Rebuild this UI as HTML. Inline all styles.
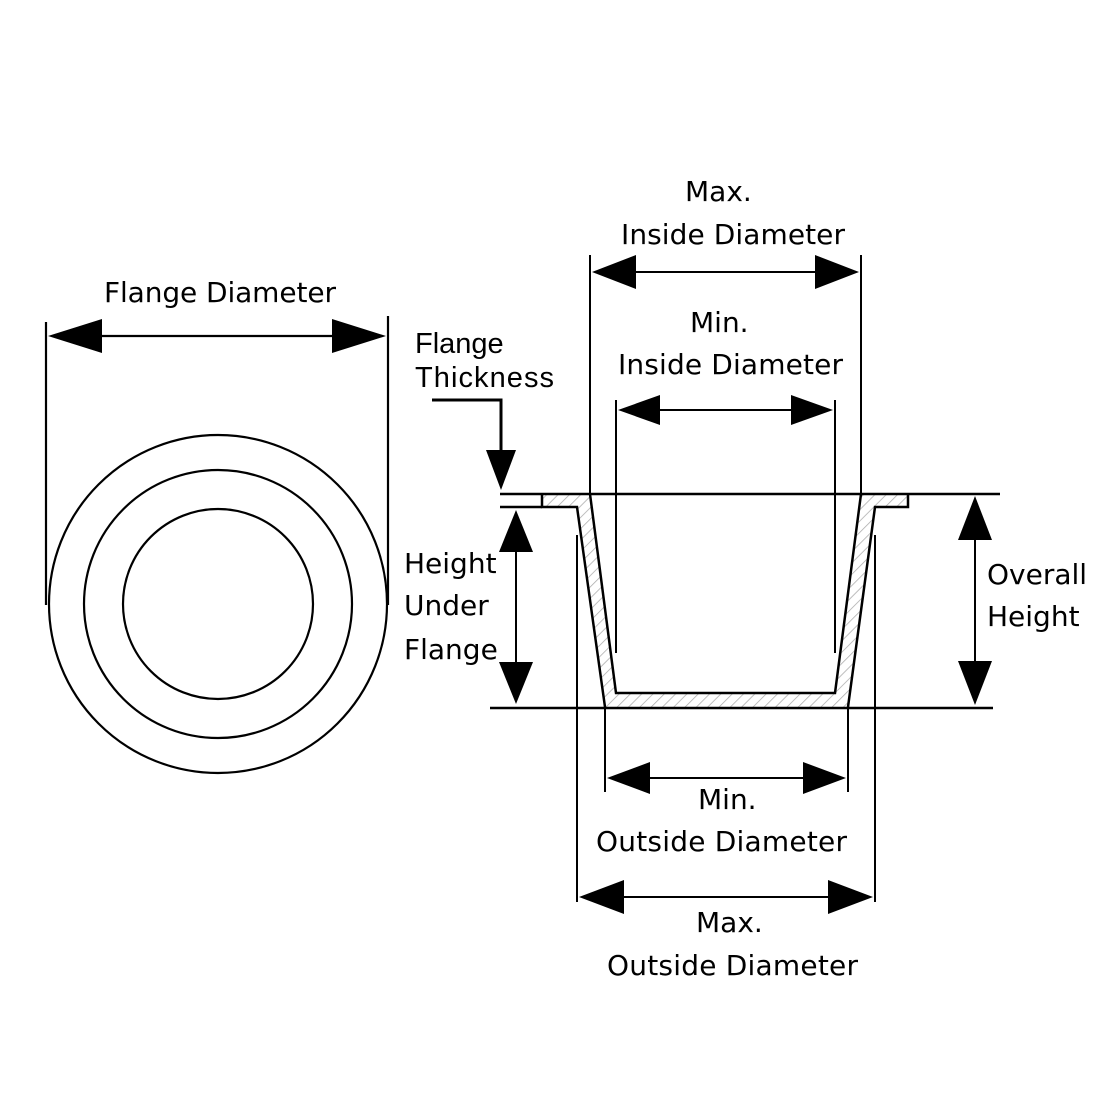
<!DOCTYPE html>
<html><head><style>body{margin:0;background:#fff}svg{display:block}
.t{font-family:"DejaVu Sans",sans-serif;font-size:28px;fill:#000}
.a{font-family:"Liberation Sans",sans-serif;font-size:29px;fill:#000}
</style></head><body>
<svg width="1100" height="1100" viewBox="0 0 1100 1100">
<defs>
<pattern id="h" width="8" height="8" patternUnits="userSpaceOnUse" patternTransform="rotate(45)">
<line x1="0" y1="0" x2="0" y2="8" stroke="#aaa" stroke-width="1.5"/></pattern>
</defs>
<g fill="none" stroke="#000" stroke-width="2.2">
<circle cx="218" cy="604" r="169"/>
<circle cx="218" cy="604" r="134"/>
<circle cx="218" cy="604" r="95"/>
<line x1="46" y1="322" x2="46" y2="605"/>
<line x1="388" y1="316" x2="388" y2="605"/>
<line x1="90" y1="336" x2="345" y2="336"/>
</g>
<path d="M542,494 L908,494 L908,507 L875,507 L848,707 L605,707 L577,507 L542,507 Z M590,494 L616,693 L835,693 L861,494 Z" fill="url(#h)" fill-rule="evenodd" stroke="none"/>
<g fill="none" stroke="#000" stroke-width="2.5">
<line x1="500" y1="494" x2="1000" y2="494"/>
<path d="M542,494 L542,507 L577,507 L605,707"/>
<path d="M590,494 L616,693 L835,693 L861,494"/>
<path d="M908,494 L908,507 L875,507 L848,707"/>
<line x1="500" y1="507" x2="542" y2="507"/>
<line x1="490" y1="708" x2="993" y2="708"/>
</g>
<g fill="none" stroke="#000" stroke-width="2">
<line x1="577" y1="535" x2="577" y2="902"/>
<line x1="875" y1="535" x2="875" y2="902"/>
<line x1="605" y1="707" x2="605" y2="792"/>
<line x1="848" y1="707" x2="848" y2="792"/>
<line x1="616" y1="400" x2="616" y2="653"/>
<line x1="835" y1="400" x2="835" y2="653"/>
<line x1="590" y1="255" x2="590" y2="494"/>
<line x1="861" y1="255" x2="861" y2="494"/>
<line x1="630" y1="272" x2="820" y2="272"/>
<line x1="655" y1="410" x2="795" y2="410"/>
<line x1="645" y1="778" x2="808" y2="778"/>
<line x1="620" y1="897" x2="832" y2="897"/>
<line x1="975" y1="540" x2="975" y2="665"/>
<line x1="516" y1="540" x2="516" y2="665"/>
<path d="M432,400 L501,400 L501,455" stroke-width="3"/>
</g>
<g fill="#000">
<polygon points="48,336 102,319 102,353"/><polygon points="386,336 332,319 332,353"/>
<polygon points="592,272 636,255 636,289"/><polygon points="859,272 815,255 815,289"/>
<polygon points="618,410 660,395 660,425"/><polygon points="833,410 791,395 791,425"/>
<polygon points="607,778 650,762 650,794"/><polygon points="846,778 803,762 803,794"/>
<polygon points="579,897 624,880 624,914"/><polygon points="873,897 828,880 828,914"/>
<polygon points="975,496 958,540 992,540"/><polygon points="975,705 958,661 992,661"/>
<polygon points="516,510 499,552 533,552"/><polygon points="516,704 499,662 533,662"/>
<polygon points="501,490 486,450 516,450"/>
</g>
<text class="t" x="104" y="302" textLength="232">Flange Diameter</text>
<text class="a" x="415" y="353">Flange</text>
<text class="a" x="415" y="387" textLength="139">Thickness</text>
<text class="t" x="685" y="201">Max.</text>
<text class="t" x="621" y="244" textLength="224">Inside Diameter</text>
<text class="t" x="690" y="332">Min.</text>
<text class="t" x="618" y="374" textLength="225">Inside Diameter</text>
<text class="t" x="404" y="573">Height</text>
<text class="t" x="404" y="615">Under</text>
<text class="t" x="404" y="659">Flange</text>
<text class="t" x="987" y="584">Overall</text>
<text class="t" x="987" y="626">Height</text>
<text class="t" x="698" y="809">Min.</text>
<text class="t" x="596" y="851" textLength="251">Outside Diameter</text>
<text class="t" x="696" y="932">Max.</text>
<text class="t" x="607" y="975" textLength="251">Outside Diameter</text>
</svg>
</body></html>
